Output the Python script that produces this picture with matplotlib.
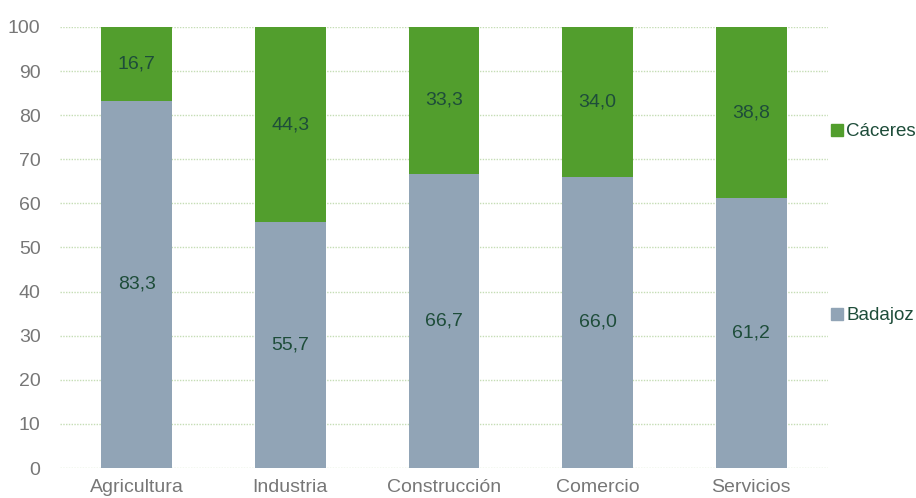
import matplotlib.pyplot as plt
from matplotlib.lines import Line2D
import numpy as np

categories = ['Agricultura', 'Industria', 'Construcción', 'Comercio', 'Servicios']
badajoz = [83.3, 55.7, 66.7, 66.0, 61.2]
caceres = [16.7, 44.3, 33.3, 34.0, 38.8]

col_bad = '#91A4B6'
col_cac = '#529E2D'
col_lab = '#1E4D3A'
col_tick = '#777777'

plt.rcParams['font.family'] = ['Liberation Sans', 'DejaVu Sans']

fig = plt.figure(figsize=(9.16, 4.98), dpi=100)
ax = fig.add_axes([60 / 916, 30 / 498, 768 / 916, 441 / 498])

x = np.arange(len(categories))
w = 0.46
ax.bar(x, badajoz, w, color=col_bad, zorder=3)
ax.bar(x, caceres, w, bottom=badajoz, color=col_cac, zorder=3)

for i in range(len(categories)):
    ax.text(x[i], badajoz[i] / 2, f'{badajoz[i]:.1f}'.replace('.', ','),
            ha='center', va='center', fontsize=14, color=col_lab, zorder=4)
    ax.text(x[i], badajoz[i] + caceres[i] / 2, f'{caceres[i]:.1f}'.replace('.', ','),
            ha='center', va='center', fontsize=14, color=col_lab, zorder=4)

ax.set_xlim(-0.5, len(categories) - 0.5)
ax.set_ylim(0, 100)
ax.set_yticks(range(0, 101, 10))
ax.set_xticks(x)
ax.set_xticklabels(categories)
ax.tick_params(length=0, labelsize=14, colors=col_tick)
ax.tick_params(axis='y', pad=14)
ax.tick_params(axis='x', pad=8)
for s in ax.spines.values():
    s.set_visible(False)
ax.yaxis.grid(True, color='#C5DDB5', linestyle=(0, (1, 1)), linewidth=1, zorder=0)
ax.set_axisbelow(True)

handles = [Line2D([], [], marker='s', linestyle='none', markersize=8, color=col_cac),
           Line2D([], [], marker='s', linestyle='none', markersize=8, color=col_bad)]
leg = fig.legend(handles, ['Cáceres', 'Badajoz'], loc='upper left',
                 bbox_to_anchor=(816 / 916, 1 - 112 / 498), frameon=False,
                 fontsize=13.5, labelspacing=8.9, handletextpad=0.0,
                 handlelength=1.0, borderaxespad=0.2)
for t in leg.get_texts():
    t.set_color(col_lab)

fig.savefig('out.png', dpi=100)
